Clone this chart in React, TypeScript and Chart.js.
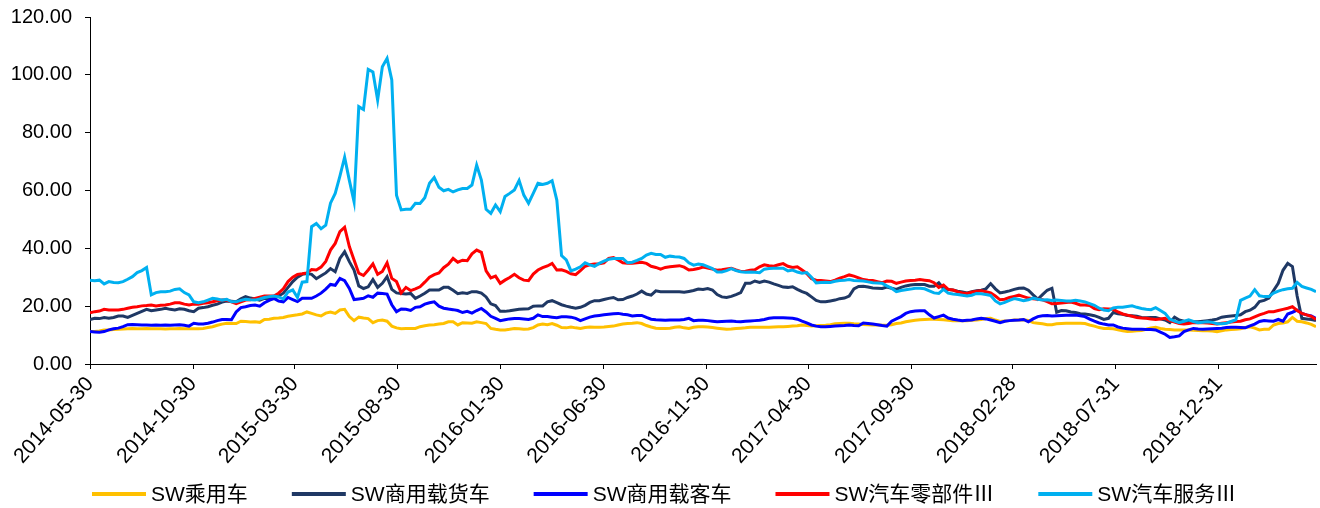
import React, { useEffect, useRef } from "react";
import { Chart, registerables } from "chart.js";

Chart.register(...registerables);

// weekly observations starting on this date
const startDate = "2014-05-30";

const tickLabels = [
  "2014-05-30", "2014-10-30", "2015-03-30", "2015-08-30", "2016-01-30", "2016-06-30",
  "2016-11-30", "2017-04-30", "2017-09-30", "2018-02-28", "2018-07-31", "2018-12-31",
];

const seriesNames = ["SW乘用车", "SW商用载货车", "SW商用载客车", "SW汽车零部件Ⅲ", "SW汽车服务Ⅲ"];
const seriesColors = ["#FFC000", "#1F3864", "#0000FF", "#FF0000", "#00B0F0"];

const passengerCar = [
  11.2, 11.2, 11.4, 11.8, 11.8, 11.9, 12.0, 12.1, 12.2, 12.3,
  12.2, 12.2, 12.3, 12.2, 12.2, 12.2, 12.1, 12.2, 12.2, 12.3,
  12.2, 12.2, 12.2, 12.2, 12.3, 12.6, 12.9, 13.4, 13.8, 14.1,
  14.0, 14.0, 14.8, 14.7, 14.5, 14.6, 14.4, 15.4, 15.5, 15.8,
  15.9, 16.1, 16.5, 16.8, 17.0, 17.3, 18.0, 17.5, 17.0, 16.6,
  17.6, 18.0, 17.5, 18.7, 18.9, 16.4, 15.0, 16.2, 15.9, 15.7,
  14.3, 15.0, 15.2, 14.8, 13.1, 12.5, 12.2, 12.3, 12.3, 12.3,
  12.9, 13.2, 13.5, 13.6, 13.8, 14.0, 14.6, 14.6, 13.5, 14.3,
  14.2, 14.1, 14.6, 14.3, 14.0, 12.3, 12.0, 11.8, 11.8, 12.0,
  12.3, 12.2, 12.0, 12.1, 12.6, 13.5, 13.8, 13.6, 14.0, 13.4,
  12.6, 12.5, 12.8, 12.5, 12.3, 12.6, 12.8, 12.7, 12.7, 12.8,
  13.0, 13.1, 13.5, 13.8, 14.0, 14.1, 14.3, 14.0, 13.3, 12.8,
  12.4, 12.3, 12.3, 12.4, 12.7, 12.9, 12.5, 12.3, 12.7, 12.9,
  12.9, 12.8, 12.6, 12.4, 12.2, 12.0, 12.1, 12.3, 12.4, 12.5,
  12.7, 12.7, 12.7, 12.7, 12.7, 12.8, 12.9, 12.9, 13.0, 13.1,
  13.2, 13.5, 13.3, 13.1, 13.2, 13.3, 13.4, 13.6, 13.9, 14.0,
  14.1, 14.1, 13.9, 13.8, 13.7, 13.6, 13.5, 13.5, 13.4, 13.4,
  13.6, 14.0, 14.2, 14.6, 14.9, 15.1, 15.3, 15.4, 15.5, 15.5,
  15.4, 15.3, 15.1, 15.0, 15.0, 15.0, 15.0, 15.1, 15.2, 15.4,
  15.7, 15.8, 15.2, 14.7, 14.9, 15.0, 15.2, 15.2, 15.3, 15.1,
  14.3, 14.1, 13.9, 13.6, 13.6, 13.9, 14.0, 14.1, 14.1, 14.1,
  14.1, 14.0, 13.5, 13.1, 12.6, 12.3, 12.3, 12.2, 11.8, 11.5,
  11.2, 11.3, 11.5, 11.6, 12.0, 12.5, 12.7, 12.3, 12.0, 11.9,
  11.8, 11.8, 11.8, 11.8, 11.7, 11.6, 11.5, 11.5, 11.4, 11.2,
  11.5, 11.8, 11.9, 12.0, 12.2, 12.6, 12.9, 12.4, 11.8, 12.0,
  12.0, 13.5, 14.0, 14.2, 14.6, 16.1, 14.8, 14.6, 14.2, 13.7,
  12.9,
];

const truck = [
  15.4, 15.8, 15.7, 16.1, 15.8, 16.1, 16.6, 16.6, 16.1, 16.8,
  17.5, 18.2, 18.9, 18.4, 18.7, 18.9, 19.3, 18.9, 18.7, 19.1,
  18.9, 18.4, 18.1, 19.3, 19.5, 19.8, 20.3, 20.7, 21.4, 21.8,
  21.7, 21.5, 22.5, 23.3, 22.8, 22.5, 22.1, 22.7, 22.4, 22.6,
  23.5, 24.5, 26.5, 28.5, 30.0, 31.0, 31.3, 31.0, 29.5, 30.5,
  31.5, 33.0, 31.9, 36.5, 38.8, 35.4, 32.5, 27.0, 26.1, 26.7,
  29.2, 26.5, 27.9, 30.2, 25.8, 24.6, 24.4, 24.2, 24.4, 22.7,
  23.5, 24.5, 25.6, 25.6, 25.6, 26.5, 26.5, 25.5, 24.3, 24.6,
  24.4, 25.0, 25.0, 24.5, 23.2, 20.8, 20.2, 18.2, 18.2, 18.4,
  18.7, 18.9, 19.0, 19.1, 20.0, 20.1, 20.1, 21.5, 21.9, 21.2,
  20.5, 20.0, 19.6, 19.3, 19.6, 20.3, 21.3, 21.9, 21.9, 22.3,
  22.7, 23.0, 22.2, 22.3, 23.0, 23.5, 24.2, 25.2, 24.2, 23.8,
  25.3, 25.0, 25.0, 25.0, 25.0, 25.0, 24.8, 25.1, 25.4, 25.9,
  25.8, 26.1, 25.6, 24.0, 23.2, 23.0, 23.4, 24.0, 24.7, 27.9,
  27.9, 28.7, 28.2, 28.7, 28.3, 27.7, 27.2, 26.6, 26.5, 26.7,
  25.8, 25.0, 24.4, 23.2, 22.0, 21.5, 21.5, 21.8, 22.1, 22.6,
  22.8, 23.5, 26.0, 26.8, 26.9, 26.6, 26.3, 26.2, 26.1, 26.6,
  26.2, 25.8, 26.5, 27.0, 27.3, 27.5, 27.5, 27.5, 26.9, 26.9,
  28.1, 26.1, 25.8, 25.6, 25.2, 24.9, 24.6, 25.0, 25.3, 25.5,
  26.0, 27.8, 26.0, 24.6, 24.9, 25.3, 25.8, 26.2, 26.3, 25.5,
  23.9, 22.4, 24.0, 25.5, 26.2, 17.9, 18.5, 18.4, 18.0, 17.8,
  17.4, 17.3, 17.0, 16.7, 16.1, 15.4, 15.8, 17.8, 17.4, 17.2,
  16.8, 16.7, 16.5, 16.1, 16.0, 16.1, 16.1, 15.6, 15.2, 14.3,
  16.2, 15.2, 14.8, 14.6, 14.6, 14.6, 14.8, 15.0, 15.2, 15.5,
  16.2, 16.4, 16.6, 16.8, 17.0, 18.1, 18.6, 19.6, 21.6, 22.0,
  22.8, 25.4, 27.9, 32.4, 34.8, 33.7, 23.5, 15.8, 15.6, 15.4,
  15.0,
];

const bus = [
  11.2, 11.1, 11.0, 11.2, 11.8, 12.2, 12.4, 12.9, 13.6, 13.7,
  13.6, 13.5, 13.5, 13.4, 13.5, 13.4, 13.5, 13.4, 13.5, 13.6,
  13.4, 13.1, 14.1, 13.8, 13.8, 14.1, 14.5, 15.0, 15.4, 15.4,
  15.3, 18.0, 19.5, 19.8, 20.2, 20.4, 20.0, 21.2, 22.0, 22.7,
  21.8, 21.5, 23.0, 22.3, 21.6, 22.7, 22.7, 22.7, 23.5, 24.5,
  25.9, 27.5, 27.2, 29.6, 28.8, 26.1, 22.3, 22.5, 22.7, 23.6,
  23.1, 24.5, 24.4, 24.2, 20.5, 18.1, 19.0, 18.9, 18.5, 19.6,
  19.8, 20.7, 21.2, 21.5, 20.0, 19.3, 19.0, 18.8, 18.5, 17.8,
  18.2, 17.6, 18.5, 19.2, 18.0, 16.5, 15.8, 15.0, 15.3, 15.6,
  15.7, 15.7, 15.6, 15.4, 15.8, 17.0, 16.4, 16.4, 16.2, 16.0,
  16.3, 16.3, 16.2, 15.8, 15.0, 15.6, 16.2, 16.6, 16.8, 17.0,
  17.2, 17.4, 17.5, 17.2, 17.0, 16.6, 16.8, 16.8, 16.1, 15.5,
  15.3, 15.2, 15.1, 15.2, 15.2, 15.2, 15.4, 15.8, 15.0, 15.1,
  15.1, 15.0, 14.8, 14.6, 14.7, 14.8, 14.9, 14.7, 14.6, 14.8,
  14.9, 15.0, 15.1, 15.4, 15.8, 16.0, 16.0, 16.0, 15.9, 15.8,
  15.5, 14.8, 14.2, 13.5, 13.1, 12.9, 12.9, 13.0, 13.1, 13.2,
  13.3, 13.5, 13.3, 13.2, 14.2, 14.0, 13.8, 13.6, 13.3, 13.1,
  14.8, 15.6, 16.4, 17.5, 18.1, 18.3, 18.4, 18.4, 17.0, 15.9,
  16.4, 16.9, 15.9, 15.5, 15.2, 15.0, 15.1, 15.2, 15.6, 15.8,
  15.6, 15.2, 14.8, 14.3, 14.8, 15.0, 15.1, 15.2, 15.4, 14.6,
  15.6, 16.4, 16.7, 16.8, 16.6, 16.7, 16.8, 16.9, 16.9, 16.9,
  16.7, 16.4, 15.5, 14.8, 14.2, 13.8, 13.5, 13.5, 12.8, 12.4,
  12.2, 12.0, 12.0, 12.0, 11.9, 11.9, 11.8, 11.0, 10.3, 9.2,
  9.4, 9.7, 11.2, 11.8, 12.3, 12.1, 12.0, 12.1, 12.2, 12.3,
  12.4, 12.6, 12.7, 12.7, 12.6, 12.5, 13.2, 13.8, 14.7, 15.0,
  14.9, 14.8, 15.4, 14.8, 17.3, 17.9, 18.6, 17.5, 17.0, 16.6,
  15.8,
];

const autoParts = [
  17.7, 18.1, 18.3, 18.9, 18.7, 18.7, 18.7, 18.9, 19.3, 19.6,
  19.8, 20.1, 20.2, 20.4, 20.1, 20.3, 20.4, 20.7, 21.2, 21.2,
  20.7, 20.4, 20.7, 20.7, 21.0, 21.2, 21.5, 21.9, 22.1, 22.1,
  21.5, 20.9, 21.5, 22.1, 22.2, 22.7, 23.1, 23.5, 23.5, 23.5,
  24.5, 26.0, 28.5, 30.0, 31.0, 31.2, 31.5, 32.7, 32.5, 33.5,
  35.5, 39.4, 41.7, 45.8, 47.3, 40.6, 36.0, 31.4, 30.6, 32.5,
  34.6, 31.0, 32.0, 35.0, 29.6, 28.5, 24.6, 26.5, 25.4, 26.0,
  26.7, 28.3, 30.0, 30.9, 31.5, 33.3, 34.5, 36.5, 35.2, 35.9,
  35.7, 38.1, 39.4, 38.6, 32.2, 29.8, 30.4, 27.9, 29.0, 29.9,
  31.0, 29.8, 29.0, 28.8, 31.1, 32.5, 33.3, 33.9, 34.8, 32.5,
  32.6, 32.0, 31.2, 30.9, 32.3, 33.8, 34.3, 34.6, 34.7, 35.0,
  36.5, 36.8, 36.0, 35.0, 34.8, 34.8, 35.0, 35.2, 34.8, 33.8,
  33.4, 32.8, 33.4, 33.6, 33.8, 34.0, 33.5, 32.5, 32.7, 33.0,
  33.5, 33.2, 32.8, 32.4, 32.6, 32.9, 33.1, 32.5, 32.0, 32.1,
  32.4, 32.6, 33.6, 34.3, 34.0, 33.8, 34.3, 34.7, 33.8, 33.4,
  33.6, 32.5, 31.3, 29.5, 29.0, 28.9, 28.7, 28.5, 29.0, 29.7,
  30.2, 30.8, 30.4, 29.8, 29.2, 29.0, 28.9, 28.5, 28.1, 28.7,
  28.6, 27.9, 28.3, 28.7, 28.9, 29.0, 29.2, 29.0, 28.8, 28.1,
  26.5, 27.3, 25.8, 25.6, 25.0, 24.6, 24.4, 24.8, 25.2, 25.3,
  25.0, 24.6, 23.5, 22.2, 22.4, 23.0, 23.4, 23.8, 23.3, 22.8,
  22.6, 22.4, 22.2, 21.6, 20.8, 20.9, 21.1, 21.3, 21.4, 21.0,
  20.4, 20.4, 20.2, 19.2, 18.8, 19.1, 19.0, 18.9, 18.0, 17.3,
  16.9, 16.5, 16.1, 15.9, 15.8, 15.6, 15.4, 15.6, 15.8, 15.0,
  14.5, 14.0, 13.8, 14.0, 14.3, 14.3, 14.3, 14.2, 14.0, 13.8,
  14.1, 14.3, 14.5, 14.7, 14.8, 15.3, 15.6, 16.3, 17.0, 17.5,
  18.1, 18.1, 18.5, 18.9, 19.3, 19.8, 18.5, 17.5, 17.0, 16.5,
  15.4,
];

const autoService = [
  29.0, 28.8, 29.0, 27.7, 28.5, 28.2, 28.1, 28.5, 29.3, 30.2,
  31.6, 32.3, 33.4, 23.9, 24.7, 25.0, 25.0, 25.2, 25.8, 26.0,
  24.7, 23.9, 21.5, 21.2, 21.5, 22.1, 22.7, 22.5, 22.1, 22.4,
  21.5, 21.5, 22.0, 22.4, 22.2, 22.1, 22.5, 23.0, 23.3, 23.5,
  23.2, 22.5, 24.9, 25.6, 23.0, 28.3, 28.5, 47.5, 48.6, 46.8,
  48.0, 55.6, 59.0, 65.0, 71.5, 63.5, 56.1, 89.0, 88.0, 101.9,
  101.0, 91.3, 102.8, 105.7, 98.2, 58.4, 53.3, 53.5, 53.5, 55.6,
  55.5, 57.5, 62.5, 64.5, 61.1, 59.9, 60.4, 59.5, 60.2, 60.7,
  60.7, 61.9, 68.8, 63.6, 53.5, 52.1, 55.0, 52.7, 57.9, 59.0,
  60.2, 63.5, 58.4, 55.6, 59.0, 62.5, 62.1, 62.5, 63.4, 56.7,
  37.5, 36.0, 32.2, 32.8, 33.6, 35.0, 34.3, 33.8, 34.8, 35.6,
  36.2, 36.5, 36.5, 36.5, 35.0, 35.2, 35.8, 36.5, 37.7, 38.3,
  37.9, 37.9, 36.9, 37.3, 37.1, 37.0, 36.5, 35.0, 34.2, 34.6,
  34.3, 33.7, 33.0, 31.8, 31.8, 32.3, 33.0, 32.3, 31.9, 31.7,
  31.8, 31.7, 31.6, 32.8, 33.0, 33.1, 33.1, 33.1, 32.2, 32.5,
  31.8, 31.4, 31.6, 30.0, 28.0, 28.2, 28.3, 28.2, 28.6, 28.9,
  29.0, 29.2, 28.9, 28.8, 28.7, 28.4, 28.1, 28.0, 27.9, 27.0,
  26.2, 25.0, 25.4, 25.7, 25.9, 26.2, 26.2, 26.0, 25.3, 24.6,
  24.4, 25.8, 24.5, 24.2, 24.0, 23.8, 23.5, 23.8, 24.4, 24.3,
  24.0, 23.7, 21.8, 20.8, 21.3, 22.0, 22.6, 22.3, 21.9, 22.2,
  22.8, 22.4, 22.1, 22.2, 22.0, 22.1, 22.0, 21.8, 21.8, 22.0,
  21.8, 21.5, 20.9, 20.3, 19.3, 18.7, 18.4, 19.4, 19.6, 19.6,
  19.9, 20.1, 19.6, 19.2, 18.9, 18.8, 19.5, 18.5, 17.5, 15.5,
  14.8, 14.3, 14.8, 15.3, 14.7, 14.3, 14.4, 14.6, 14.4, 13.9,
  13.9, 14.1, 14.7, 15.3, 22.0, 22.8, 23.5, 25.7, 23.6, 23.3,
  23.3, 24.5, 25.2, 25.7, 26.0, 26.2, 28.2, 26.8, 26.3, 25.8,
  25.0,
];

const seriesValues = [passengerCar, truck, bus, autoParts, autoService];

const W = 1320;
const H = 508;
const PLOT_LEFT = 90;
const PLOT_TOP = 17;
const PLOT_BOTTOM = 364;
const LEGEND_SPACE = 30;
const LEGEND_CENTER_X = 664;
const FONT = "'Liberation Sans', Arial, 'Noto Sans CJK SC', sans-serif";

const WEEK_MS = 7 * 24 * 3600 * 1000;
const weekOf = (d: string) => (Date.parse(d) - Date.parse(startDate)) / WEEK_MS;

// legend drawn in the reserved strip under the x axis
const bottomLegend = {
  id: "bottomLegend",
  afterDraw(chart: any) {
    const ctx = chart.ctx as CanvasRenderingContext2D;
    const sample = 54;
    const gapText = 5;
    const gapItem = 44;
    ctx.save();
    ctx.font = `21px ${FONT}`;
    ctx.textBaseline = "middle";
    ctx.textAlign = "left";
    const items = chart.data.datasets.map((ds: any) => ({
      text: ds.label as string,
      color: ds.borderColor as string,
      w: ctx.measureText(ds.label).width,
    }));
    const total =
      items.reduce((s: number, it: any) => s + sample + gapText + it.w, 0) + gapItem * (items.length - 1);
    let x = Math.round(LEGEND_CENTER_X - total / 2);
    const y = H - LEGEND_SPACE + 16;
    for (const it of items) {
      ctx.strokeStyle = it.color;
      ctx.lineWidth = 4;
      ctx.beginPath();
      ctx.moveTo(x, y);
      ctx.lineTo(x + sample, y);
      ctx.stroke();
      ctx.fillStyle = "#000";
      ctx.fillText(it.text, x + sample + gapText, y + 1);
      x += sample + gapText + it.w + gapItem;
    }
    ctx.restore();
  },
};

export default function App() {
  const ref = useRef<HTMLCanvasElement | null>(null);

  useEffect(() => {
    if (!ref.current) return;
    const tickWeeks = tickLabels.map(weekOf);
    const lastWeek = Math.max(...seriesValues.map((s) => s.length)) - 1;

    const chart = new Chart(ref.current, {
      type: "line",
      data: {
        datasets: seriesValues.map((vals, k) => ({
          label: seriesNames[k],
          data: vals.map((v, i) => ({ x: i, y: v })),
          borderColor: seriesColors[k],
          backgroundColor: seriesColors[k],
          borderWidth: 3,
          pointRadius: 0,
          tension: 0,
          fill: false,
          order: seriesValues.length - k,
        })),
      },
      options: {
        responsive: false,
        animation: false,
        devicePixelRatio: 1,
        layout: { padding: { left: 0, right: 4, top: PLOT_TOP, bottom: LEGEND_SPACE } },
        plugins: {
          tooltip: { enabled: false },
          legend: { display: false },
        },
        scales: {
          x: {
            type: "linear",
            min: 0,
            max: lastWeek,
            grid: { drawOnChartArea: false, drawTicks: true, tickLength: 5, color: "#000" },
            border: { display: true, color: "#000", width: 1 },
            ticks: {
              autoSkip: false,
              minRotation: 48,
              maxRotation: 48,
              padding: 3,
              color: "#000",
              font: { family: FONT, size: 21 },
              callback: (_v: any, i: number) => tickLabels[i],
            },
            afterBuildTicks: (scale: any) => {
              scale.ticks = tickWeeks.map((v) => ({ value: v }));
            },
            afterFit: (scale: any) => {
              scale.height = H - LEGEND_SPACE - PLOT_BOTTOM;
              scale.paddingLeft = 0;
              scale.paddingRight = 0;
            },
          },
          y: {
            min: 0,
            max: 120,
            grid: { drawOnChartArea: false, drawTicks: true, tickLength: 5, color: "#000" },
            border: { display: true, color: "#000", width: 1 },
            ticks: {
              stepSize: 20,
              padding: 13,
              color: "#000",
              font: { family: FONT, size: 20 },
              callback: (v: any) => Number(v).toFixed(2),
            },
            afterFit: (scale: any) => {
              scale.width = PLOT_LEFT;
              scale.paddingTop = 0;
              scale.paddingBottom = 0;
            },
          },
        },
      },
      plugins: [bottomLegend],
    });
    return () => chart.destroy();
  }, []);

  return (
    <div style={{ position: "fixed", left: 0, top: 0, width: W, height: H, background: "#fff" }}>
      <canvas ref={ref} width={W} height={H} style={{ width: W, height: H, display: "block" }} />
    </div>
  );
}
